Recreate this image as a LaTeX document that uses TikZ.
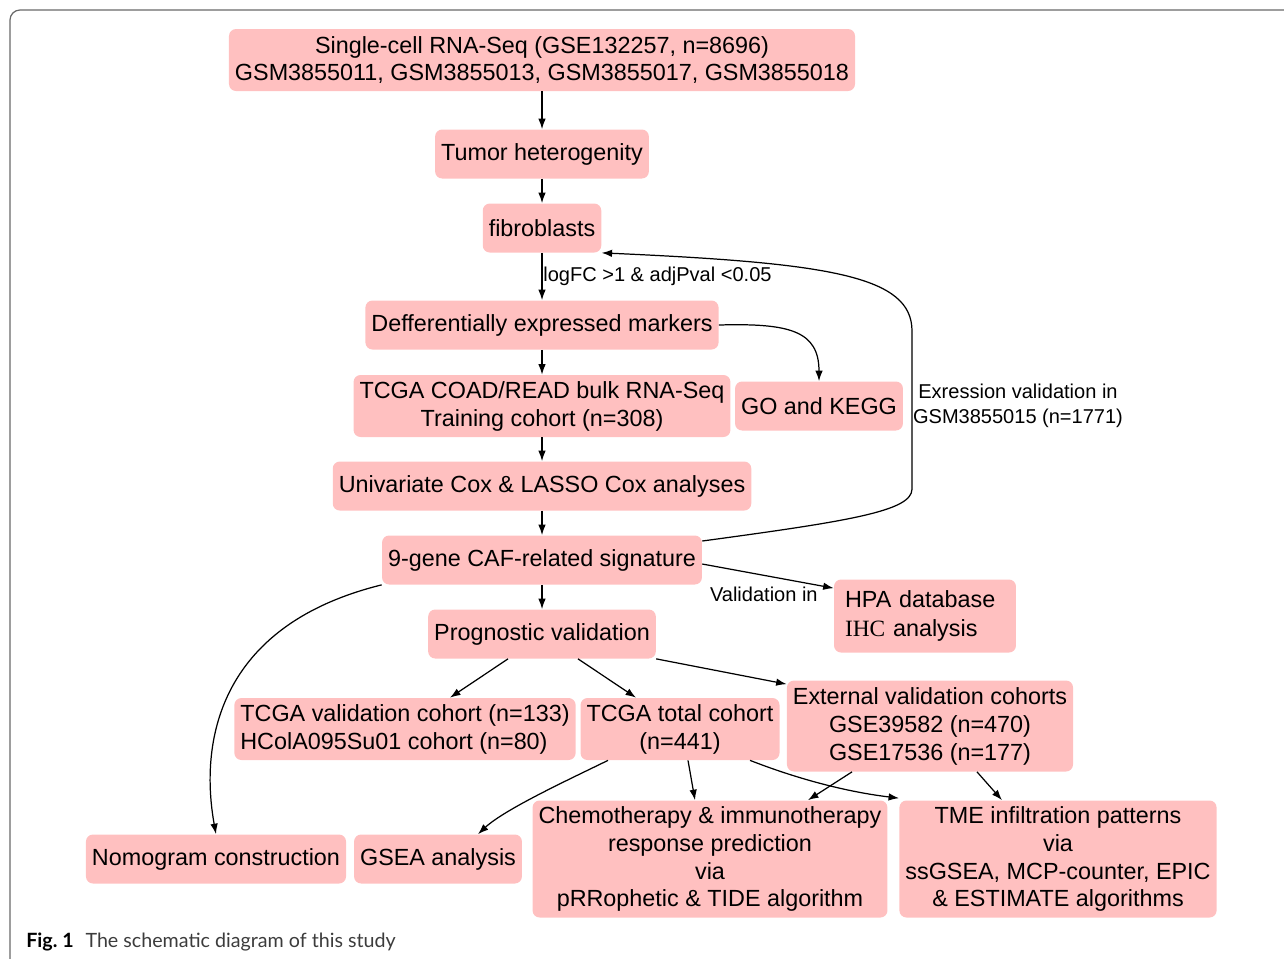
\documentclass[tikz,border=0pt]{standalone}
\usepackage{fontspec}
\setmainfont{Liberation Sans}
\newfontfamily\ihcfont{Liberation Serif}
\newfontfamily\capfont{Lato}
\usetikzlibrary{arrows.meta}
\definecolor{boxpink}{RGB}{255,192,192}
\definecolor{framegray}{RGB}{105,105,105}
\definecolor{capgray}{RGB}{60,60,60}

\begin{document}
\begin{tikzpicture}[x=0.02cm, y=-0.02cm,
    box/.style={fill=boxpink, rounded corners=0.14cm, inner xsep=0.12cm, inner ysep=0pt,
      font=\fontsize{13.3}{15.9}\selectfont, align=center, minimum height=0.98cm},
    twoline/.style={box, minimum height=1.24cm},
    arr/.style={-{Latex[length=0.21cm,width=0.15cm]}, line width=0.7pt},
    lbl/.style={font=\fontsize{11.4}{13.9}\selectfont, inner sep=0pt}]
    \useasboundingbox (0,0) rectangle (1284,958);

    % frame of the figure
    \draw [framegray, line width=0.7pt, rounded corners=0.2cm] (1290,10) -- (10,10) -- (10,962);

    % main column
    \node [twoline] (scrna) at (542,60) {Single-cell RNA-Seq (GSE132257, n=8696)\\GSM3855011, GSM3855013, GSM3855017, GSM3855018};
    \node [box] (tumor) at (542,154) {Tumor heterogenity};
    \node [box] (fibro) at (542,228) {fibroblasts};
    \node [box] (dem) at (542,325) {Defferentially expressed markers};
    \node [twoline] (tcga) at (542,406) {TCGA COAD/READ bulk RNA-Seq\\Training cohort (n=308)};
    \node [box] (gokegg) at (819,406) {GO and KEGG};
    \node [box] (cox) at (542,486) {Univariate Cox \& LASSO Cox analyses};
    \node [box] (sig) at (542,560) {9-gene CAF-related signature};
    \node [box, minimum height=1.46cm, text width=3.2cm, align=left, inner xsep=0.22cm,
      font=\fontsize{13.3}{17}\selectfont] (hpa) at (925,616) {HPA database\\{\ihcfont IHC} analysis};
    \node [box] (prog) at (542,634) {Prognostic validation};

    % cohorts
    \node [twoline, align=left] (tval) at (405,729) {TCGA validation cohort (n=133)\\HColA095Su01 cohort (n=80)};
    \node [twoline] (ttotal) at (680,729) {TCGA total cohort\\(n=441)};
    \node [box, minimum height=1.82cm] (ext) at (930,726) {External validation cohorts\\GSE39582 (n=470)\\GSE17536 (n=177)};

    % bottom row
    \node [box] (nomo) at (216,859) {Nomogram construction};
    \node [box] (gsea) at (438,859) {GSEA analysis};
    \node [box, minimum height=2.34cm] (chemo) at (710,859) {Chemotherapy \& immunotherapy\\response prediction\\via\\pRRophetic \& TIDE algorithm};
    \node [box, minimum height=2.34cm] (tme) at (1058,859) {TME infiltration patterns\\via\\ssGSEA, MCP-counter, EPIC\\\& ESTIMATE algorithms};

    \draw [arr] (scrna) -- (tumor);
    \draw [arr] (tumor) -- (fibro);
    \draw [arr] (fibro) -- (dem);
    \node [lbl, anchor=west] (fclbl) at (543,276) {logFC >1 \& adjPval <0.05};
    \draw [arr] (dem) -- (tcga);
    \draw [arr] (dem.east) .. controls (790,323) and (819,331) .. (gokegg.north);
    \draw [arr] (tcga) -- (cox);
    \draw [arr] (cox) -- (sig);
    \draw [arr] (sig) -- (prog);

    % expression validation loop
    \coordinate (bendlow) at (912,489);
    \coordinate (bendhigh) at (912,331);
    \draw [arr] ([yshift=0.38cm]sig.east) .. controls (850,521) and (912,511) .. (bendlow) -- (bendhigh) .. controls (912,276) and (830,263) .. (fibro.south east);
    \node [lbl, align=center] (exlbl) at (1018,406) {Exression validation in\\GSM3855015 (n=1771)};

    \draw [arr] ([yshift=-0.08cm]sig.east) -- ([yshift=-0.18cm]hpa.north west);
    \node [lbl, anchor=east] (vallbl) at (818,594) {Validation in};
    \draw [arr] (sig.south west) .. controls (215,626) and (200,746) .. (nomo.north);

    \draw [arr] ([xshift=-0.68cm]prog.south) -- ([xshift=0.9cm]tval.north);
    \draw [arr] ([xshift=0.72cm]prog.south) -- ([xshift=-0.88cm]ttotal.north);
    \draw [arr] (prog.south east) -- ([yshift=-0.08cm]ext.north west);

    \draw [arr] ([xshift=-1.44cm]ttotal.south) .. controls (570,779) and (505,809) .. ([xshift=0.8cm]gsea.north);
    \draw [arr] ([xshift=0.16cm]ttotal.south) -- ([xshift=-0.3cm]chemo.north);
    \draw [arr] ([xshift=1.4cm]ttotal.south) .. controls (790,776) and (840,791) .. ([yshift=0.04cm]tme.north west);
    \draw [arr] ([xshift=-1.56cm]ext.south) -- ([xshift=1.96cm]chemo.north);
    \draw [arr] ([xshift=0.94cm]ext.south) -- ([xshift=-1.12cm]tme.north);

    % caption
    \node [anchor=base west, inner sep=0pt, font=\capfont\fontsize{11.2}{13.5}\selectfont, text=capgray] (caption) at (26,947) {\textbf{\color{black}Fig.~1}\hspace{0.6em}The schematic diagram of this study};
\end{tikzpicture}
\end{document}
